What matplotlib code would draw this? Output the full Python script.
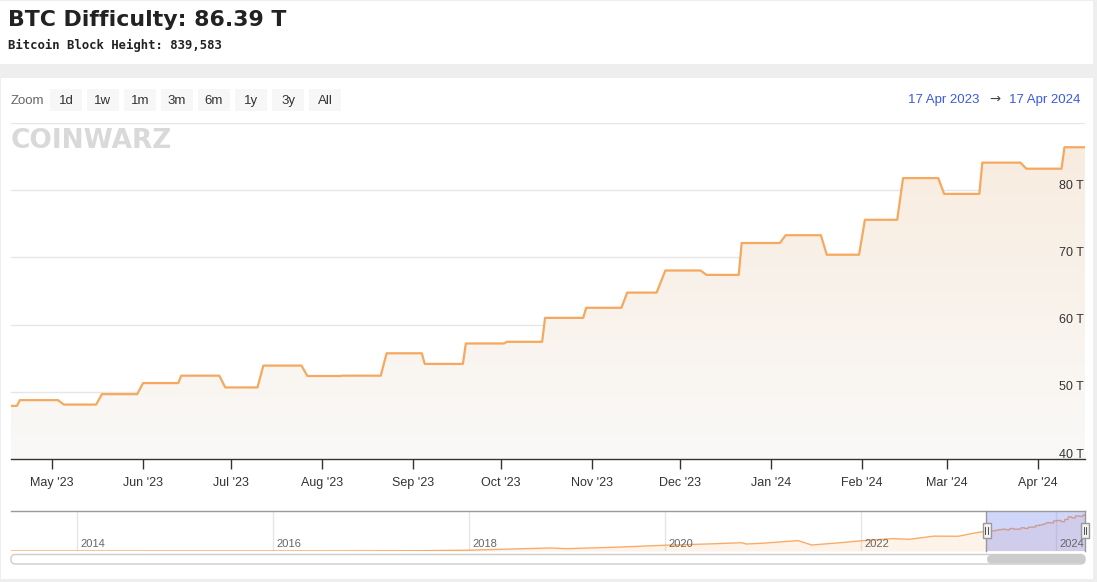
import numpy as np
import matplotlib
matplotlib.use("Agg")
import matplotlib.pyplot as plt
import matplotlib.dates as mdates
from matplotlib.patches import Rectangle, FancyBboxPatch
from matplotlib.lines import Line2D
from matplotlib.colors import LinearSegmentedColormap
import pandas as pd

W, H = 1097, 582

# ---------------- data ----------------
title_text = "BTC Difficulty: 86.39 T"
subtitle_text = "Bitcoin Block Height: 839,583"
zoom_buttons = ["1d", "1w", "1m", "3m", "6m", "1y", "3y", "All"]
range_start_label = "17 Apr 2023"
range_end_label = "17 Apr 2024"
watermark_text = "COINWARZ"

# difficulty levels (start date, end date, value in T)
level_start = ["2023-04-17", "2023-04-20", "2023-05-05", "2023-05-18", "2023-06-01",
               "2023-06-14", "2023-06-29", "2023-07-12", "2023-07-27", "2023-08-08",
               "2023-08-23", "2023-09-05", "2023-09-19", "2023-10-03", "2023-10-16",
               "2023-10-30", "2023-11-13", "2023-11-26", "2023-12-10", "2023-12-22",
               "2024-01-06", "2024-01-20", "2024-02-02", "2024-02-15", "2024-02-29",
               "2024-03-13", "2024-03-28", "2024-04-10"]
level_end = ["2023-04-19", "2023-05-03", "2023-05-16", "2023-05-30", "2023-06-13",
             "2023-06-27", "2023-07-10", "2023-07-25", "2023-08-07", "2023-08-21",
             "2023-09-04", "2023-09-18", "2023-10-02", "2023-10-15", "2023-10-29",
             "2023-11-11", "2023-11-23", "2023-12-08", "2023-12-21", "2024-01-04",
             "2024-01-18", "2024-01-31", "2024-02-13", "2024-02-27", "2024-03-12",
             "2024-03-26", "2024-04-09", "2024-04-17"]
difficulty_T = [47.9, 48.76, 48.1, 49.65, 51.3,
                52.4, 50.65, 53.9, 52.35, 52.4,
                55.73, 54.15, 57.19, 57.44, 61.0,
                62.5, 64.76, 68.05, 67.4, 72.14,
                73.3, 70.4, 75.6, 81.8, 79.45,
                84.1, 83.2, 86.39]

y_ticks = [40, 50, 60, 70, 80, 90]
y_tick_labels = ["40 T", "50 T", "60 T", "70 T", "80 T", ""]

# navigator history (T)
nav_dates = ["2013-04-30", "2014-01-01", "2015-01-01", "2016-01-01", "2017-01-01",
             "2017-07-01", "2018-01-01", "2018-07-01", "2018-11-01", "2019-01-01",
             "2019-07-01", "2020-01-01", "2020-04-01", "2020-07-01", "2020-10-15",
             "2020-11-01", "2021-01-01", "2021-05-13", "2021-07-03", "2021-10-01",
             "2022-01-01", "2022-05-01", "2022-07-01", "2022-10-01", "2023-01-01",
             "2023-03-01"]
nav_difficulty_T = [0.01, 0.01, 0.04, 0.1, 0.3,
                    0.7, 1.9, 5.1, 7.2, 5.6,
                    9.0, 13.8, 15.5, 17.3, 19.9,
                    16.8, 18.6, 25.0, 14.4, 19.0,
                    24.3, 29.8, 28.0, 35.6, 35.4,
                    43.0]
nav_years = [2014, 2016, 2018, 2020, 2022, 2024]

range_start = "2023-04-17"
range_end = "2024-04-17"

# ---------------- figure ----------------
fig = plt.figure(figsize=(W / 100, H / 100), dpi=100, facecolor="#eeeeee")


def rect(x, y, w, h, z=3, **kw):
    r = Rectangle((x / W, 1 - (y + h) / H), w / W, h / H, transform=fig.transFigure,
                  zorder=z, **kw)
    fig.add_artist(r)
    return r


def ftext(x, y, s, **kw):
    return fig.text(x / W, 1 - y / H, s, **kw)


# panels (behind axes)
rect(0, 1, 1093, 63, z=-10, facecolor="white", edgecolor="none")
rect(1, 78, 1092, 501, z=-10, facecolor="white", edgecolor="none")

ftext(8, 20.5, title_text, fontsize=15.8, fontweight="bold", family="DejaVu Sans",
      color="#222222", va="center", ha="left")
ftext(8, 45, subtitle_text, fontsize=8.8, fontweight="bold", family="DejaVu Sans Mono",
      color="#222222", va="center", ha="left")

# zoom buttons
ftext(11, 100.5, "Zoom", fontsize=9.5, family="Liberation Sans", color="#666666",
      va="center", ha="left")
btn_x = [50, 87, 124, 161, 198, 235, 272, 309]
for bx, lab in zip(btn_x, zoom_buttons):
    rect(bx, 89, 32, 22, z=-5, facecolor="#f7f7f7", edgecolor="none")
    ftext(bx + 16, 100.5, lab, fontsize=9.5, family="Liberation Sans", color="#333333",
          va="center", ha="center")

# range labels
ftext(1080, 99.5, range_end_label, fontsize=9.5, family="Liberation Sans",
      color="#3a5ae0", va="center", ha="right")
ftext(995, 99.5, "\u2192", fontsize=9.5, family="DejaVu Sans", color="#444444",
      va="center", ha="center")
ftext(979, 99.5, range_start_label, fontsize=9.5, family="Liberation Sans",
      color="#3a5ae0", va="center", ha="right")

# watermark
ftext(11, 141, watermark_text, fontsize=19, fontweight="heavy", family="DejaVu Sans",
      color="#d9d9d9", va="center", ha="left", zorder=-4)

# ---------------- main chart ----------------
ax = fig.add_axes([11 / W, 1 - 459 / H, 1074 / W, 336 / H])
ax.set_facecolor("none")

xs, ys = [], []
for s, e, v in zip(level_start, level_end, difficulty_T):
    xs += [mdates.date2num(pd.Timestamp(s)), mdates.date2num(pd.Timestamp(e))]
    ys += [v, v]
xs = np.array(xs)
ys = np.array(ys)

xmin = mdates.date2num(pd.Timestamp(range_start))
xmax = mdates.date2num(pd.Timestamp(range_end))

poly = ax.fill_between(xs, ys, 40, facecolor="none", edgecolor="none")
grad = np.linspace(0, 1, 256).reshape(-1, 1)
cmap = LinearSegmentedColormap.from_list("g", ["#faf9f8", "#f8ebdd"])
im = ax.imshow(grad, extent=[xmin, xmax, 40, 90], origin="lower", aspect="auto",
               cmap=cmap, zorder=1, interpolation="bilinear")
im.set_clip_path(poly.get_paths()[0], transform=ax.transData)
ax.set_xlim(xmin, xmax)
ax.set_ylim(40, 90)

ax.plot(xs, ys, color="#f5a85e", lw=1.6, zorder=4, solid_joinstyle="round")

ax.set_yticks(y_ticks)
ax.grid(axis="y", color="#e6e6e6", lw=1, zorder=0)
ax.set_axisbelow(True)
ax.tick_params(axis="y", length=0, labelleft=False)
for v, lab in zip(y_ticks, y_tick_labels):
    if lab:
        ax.annotate(lab, xy=(1, v), xycoords=("axes fraction", "data"), xytext=(-1, 3.2),
                    textcoords="offset points", ha="right", va="center", fontsize=9,
                    family="Liberation Sans", color="#333333", zorder=6)

ax.xaxis.set_major_locator(mdates.MonthLocator())
ax.xaxis.set_major_formatter(mdates.DateFormatter("%b '%y"))
ax.tick_params(axis="x", direction="out", length=7, width=1, color="#333333",
               labelsize=9, labelcolor="#333333", pad=6)
for lbl in ax.get_xticklabels():
    lbl.set_family("Liberation Sans")
for sp in ["top", "left", "right"]:
    ax.spines[sp].set_visible(False)
ax.spines["bottom"].set_color("#333333")
ax.spines["bottom"].set_linewidth(1)
ax.spines["bottom"].set_zorder(5)

# ---------------- navigator ----------------
axn = fig.add_axes([11 / W, 1 - 551 / H, 1074 / W, 40 / H])
axn.set_facecolor("none")
nx = np.concatenate([mdates.date2num(pd.to_datetime(nav_dates)), xs])
ny = np.concatenate([np.array(nav_difficulty_T), ys])
nxmin = nx[0]
axn.fill_between(nx, ny, 0, color="#f7a35c", alpha=0.13, lw=0, zorder=2)
axn.plot(nx, ny, color="#f7a35c", lw=1, alpha=0.9, zorder=3)
for yr in nav_years:
    d = mdates.date2num(pd.Timestamp(f"{yr}-01-01"))
    axn.axvline(d, color="#e6e6e6", lw=1, zorder=1)
    axn.annotate(str(yr), xy=(d, 0), xycoords="data", xytext=(2.5, 3),
                 textcoords="offset points", ha="left", va="baseline", fontsize=8,
                 family="Liberation Sans", color="#666666", zorder=5)
axn.axvspan(xmin, xmax, color=(0.40, 0.47, 0.94, 0.30), lw=0, zorder=4)
axn.set_xlim(nxmin, xmax)
axn.set_ylim(0, 96)
axn.set_xticks([])
axn.set_yticks([])
for sp in axn.spines.values():
    sp.set_visible(False)

# navigator outline
fig.add_artist(Line2D([11 / W, 1085 / W], [1 - 511 / H, 1 - 511 / H],
                      transform=fig.transFigure, color="#999999", lw=1, zorder=5))
for xe in [986, 1085]:
    fig.add_artist(Line2D([xe / W, xe / W], [1 - 511 / H, 1 - 551 / H],
                          transform=fig.transFigure, color="#999999", lw=1, zorder=5))
# handles
for hx in [986.5, 1085]:
    rect(hx - 4, 523, 8, 15, z=6, facecolor="#f2f2f2", edgecolor="#999999", lw=1)
    for dx in [-1.2, 1.2]:
        fig.add_artist(Line2D([(hx + dx) / W] * 2, [1 - 527 / H, 1 - 534 / H],
                              transform=fig.transFigure, color="#333333", lw=0.6,
                              zorder=7))

# scrollbar
track = FancyBboxPatch((11 / W, 1 - 564 / H), 1074 / W, 9.5 / H,
                       boxstyle="round,pad=0,rounding_size=0.004",
                       transform=fig.transFigure, facecolor="white",
                       edgecolor="#cccccc", lw=1, mutation_aspect=W / H, zorder=5)
fig.add_artist(track)
thumb = FancyBboxPatch((987 / W, 1 - 563.5 / H), 98 / W, 8.5 / H,
                       boxstyle="round,pad=0,rounding_size=0.004",
                       transform=fig.transFigure, facecolor="#cccccc",
                       edgecolor="none", mutation_aspect=W / H, zorder=6)
fig.add_artist(thumb)

fig.savefig("out.png", dpi=100, facecolor=fig.get_facecolor())
